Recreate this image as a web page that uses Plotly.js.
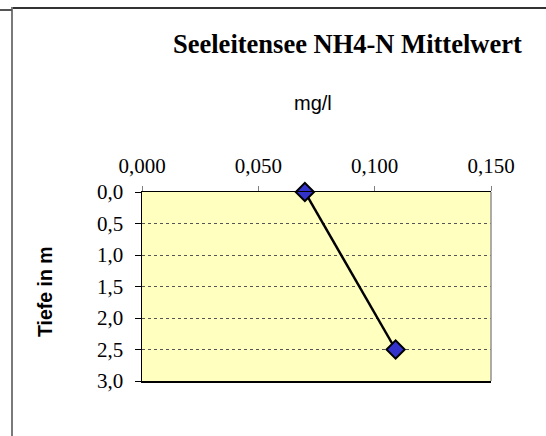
<!DOCTYPE html>
<html>
<head>
<meta charset="utf-8">
<script src="https://cdn.plot.ly/plotly-3.0.1.min.js"></script>
<style>
html,body{margin:0;padding:0;background:#fff;overflow:hidden;width:546px;height:436px;}
#wrap{position:relative;width:546px;height:436px;overflow:hidden;}
#chart{position:absolute;left:0;top:0;width:546px;height:436px;}
#frameTop{position:absolute;left:12px;top:7px;width:534px;height:2px;background:#333;}
#frameLeft{position:absolute;left:11px;top:7px;width:2px;height:429px;background:#7a7a7a;}
#stub{position:absolute;left:0;top:9px;width:12px;height:2px;background:#555;}
</style>
</head>
<body>
<div id="wrap">
<div id="chart"></div>
<div id="frameTop"></div>
<div id="frameLeft"></div>
<div id="stub"></div>
</div>
<script>
// Data
const depthM = [0, 2.5];
const nh4Values = [0.070, 0.109];
const xTickValues = [0, 0.05, 0.10, 0.15];
const yTickValues = [0, 0.5, 1.0, 1.5, 2.0, 2.5, 3.0];
const chartTitle = 'Seeleitensee NH4-N Mittelwert';
const xTitle = 'mg/l';
const yTitle = 'Tiefe in m';

const W = 546, H = 436;
const L = 142, R = 491, T = 192, B = 381;
const pw = R - L, ph = B - T;
const px = v => (v - L) / pw;
const py = v => (B - v) / ph;

const trace = {
  x: nh4Values,
  y: depthM,
  type: 'scatter',
  mode: 'lines+markers',
  line: {color: '#000000', width: 2.5},
  marker: {symbol: 'diamond', size: 14, color: '#3333CC', line: {color: '#000000', width: 2}},
  cliponaxis: false,
  showlegend: false,
  hoverinfo: 'none'
};

const layout = {
  width: W, height: H,
  margin: {l: L, r: W - R, t: T, b: H - B, pad: 0},
  paper_bgcolor: 'rgba(0,0,0,0)',
  plot_bgcolor: '#FFFFC0',
  separators: ',.',
  showlegend: false,
  xaxis: {
    side: 'top',
    range: [0, 0.15],
    tickvals: xTickValues,
    tickformat: '.3f',
    ticks: 'outside', ticklen: 5, tickcolor: '#808080', tickwidth: 1,
    showgrid: false, zeroline: false,
    showline: true, linecolor: '#000000', linewidth: 1.5, mirror: true,
    tickfont: {family: 'Liberation Serif, Times New Roman, serif', size: 21, color: '#000'},
    ticklabelstandoff: 4,
    fixedrange: true
  },
  yaxis: {
    range: [3, 0],
    tickvals: yTickValues,
    tickformat: '.1f',
    ticks: 'outside', ticklen: 6, tickcolor: '#000000', tickwidth: 1,
    showgrid: true, gridcolor: '#555555', gridwidth: 1, griddash: 'dot',
    zeroline: false,
    showline: true, linecolor: '#000000', linewidth: 1.5,
    tickfont: {family: 'Liberation Serif, Times New Roman, serif', size: 21, color: '#000'},
    ticklabelstandoff: 7,
    fixedrange: true
  },
  annotations: [
    {text: '<b>' + chartTitle + '</b>', xref: 'paper', yref: 'paper', x: px(347.5), y: py(44),
     xanchor: 'center', yanchor: 'middle', showarrow: false,
     font: {family: 'Liberation Serif, Times New Roman, serif', size: 26.5, color: '#000'}},
    {text: xTitle, xref: 'paper', yref: 'paper', x: px(312.5), y: py(103),
     xanchor: 'center', yanchor: 'middle', showarrow: false,
     font: {family: 'Liberation Sans, Arial, sans-serif', size: 20, color: '#000'}},
    {text: '<b>' + yTitle + '</b>', xref: 'paper', yref: 'paper', x: px(45), y: py(292),
     xanchor: 'center', yanchor: 'middle', textangle: -90, showarrow: false,
     font: {family: 'Liberation Sans, Arial, sans-serif', size: 19.5, color: '#000'}}
  ],
  shapes: [
    {type: 'line', xref: 'paper', yref: 'paper', x0: 1, x1: 1, y0: 0, y1: 1,
     line: {color: '#909090', width: 1.5}}
  ]
};

Plotly.newPlot('chart', [trace], layout, {displayModeBar: false, staticPlot: true});
</script>
</body>
</html>
